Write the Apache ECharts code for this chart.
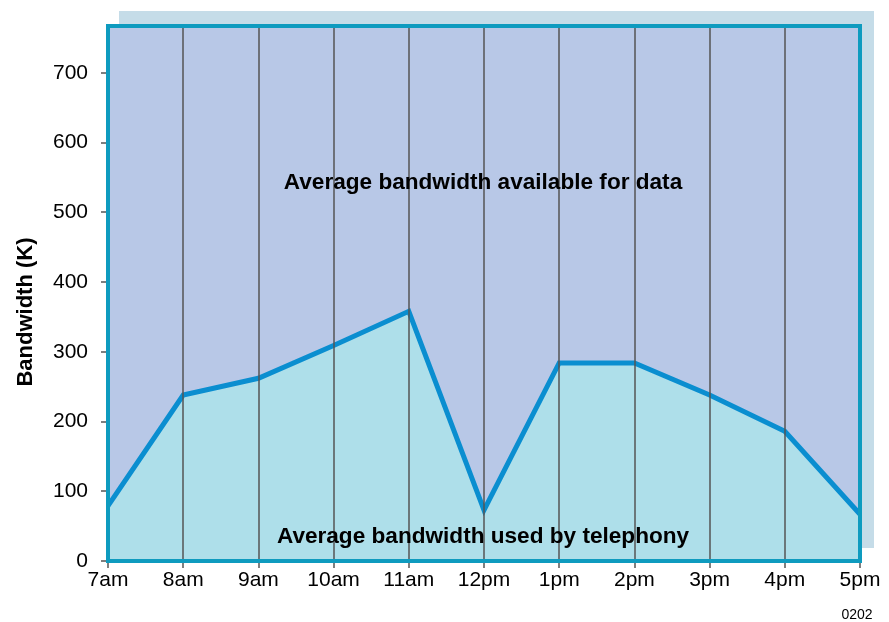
<!DOCTYPE html>
<html>
<head>
<meta charset="utf-8">
<script src="https://cdn.jsdelivr.net/npm/echarts@6/dist/echarts.min.js"></script>
<style>
  html, body { margin: 0; padding: 0; background: #fff; }
  #chart { width: 889px; height: 622px; }
</style>
</head>
<body>
<div id="chart"></div>
<script>
// Bandwidth used by telephony over the day

var hours = ['7am', '8am', '9am', '10am', '11am', '12pm', '1pm', '2pm', '3pm', '4pm', '5pm'];
var telephony = [79, 238, 262, 309, 358, 73, 284, 284, 238, 186, 67];
var yTicks = [0, 100, 200, 300, 400, 500, 600, 700];

var font = '"Liberation Sans", Arial, sans-serif';

var chart = echarts.init(document.getElementById('chart'));
chart.setOption({
    animation: false,
    textStyle: { fontFamily: font },
    graphic: [
        {
            // drop shadow behind the plot
            type: 'rect',
            z: -10,
            shape: { x: 119, y: 11, width: 755, height: 537 },
            style: { fill: '#c5dce8' }
        },
        {
            // frame around the plot
            type: 'rect',
            z: 50,
            shape: { x: 108, y: 26, width: 752, height: 535 },
            style: { fill: null, stroke: '#0e9bbf', lineWidth: 4 }
        },
        {
            type: 'text',
            z: 100,
            x: 483,
            y: 183,
            style: {
                text: 'Average bandwidth available for data',
                fill: '#000',
                font: 'bold 22.6px ' + font,
                align: 'center',
                verticalAlign: 'middle'
            }
        },
        {
            type: 'text',
            z: 100,
            x: 483,
            y: 537,
            style: {
                text: 'Average bandwidth used by telephony',
                fill: '#000',
                font: 'bold 22.6px ' + font,
                align: 'center',
                verticalAlign: 'middle'
            }
        },
        {
            type: 'text',
            x: 26,
            y: 312,
            rotation: Math.PI / 2,
            style: {
                text: 'Bandwidth (K)',
                fill: '#000',
                font: 'bold 22px ' + font,
                align: 'center',
                verticalAlign: 'middle'
            }
        },
        {
            type: 'text',
            x: 857,
            y: 615,
            style: {
                text: '0202',
                fill: '#000',
                font: '14px ' + font,
                align: 'center',
                verticalAlign: 'middle'
            }
        }
    ],
    grid: {
        left: 108,
        right: 29,
        top: 26,
        bottom: 61,
        show: true,
        backgroundColor: '#b8c8e7',
        borderWidth: 0
    },
    xAxis: {
        type: 'category',
        data: hours,
        boundaryGap: false,
        axisLine: { show: false },
        axisTick: { show: true, length: 7, lineStyle: { color: '#555', width: 1.5 } },
        axisLabel: { color: '#000', fontSize: 21, margin: 9 },
        splitLine: { show: true, lineStyle: { color: '#555', width: 1.5 } },
        z: 5
    },
    yAxis: {
        type: 'value',
        min: 0,
        max: 767,
        interval: 100,
        axisLine: { show: false },
        axisTick: {
            show: true,
            length: 7,
            customValues: yTicks,
            lineStyle: { color: '#555', width: 1.5 }
        },
        axisLabel: {
            color: '#000',
            fontSize: 21,
            margin: 20,
            customValues: yTicks
        },
        splitLine: { show: false }
    },
    series: [
        {
            type: 'line',
            data: telephony,
            symbol: 'none',
            z: 3,
            lineStyle: { color: '#0a8ed0', width: 5, join: 'miter' },
            areaStyle: { color: '#aedfea', opacity: 1 }
        }
    ]
});
</script>
</body>
</html>
